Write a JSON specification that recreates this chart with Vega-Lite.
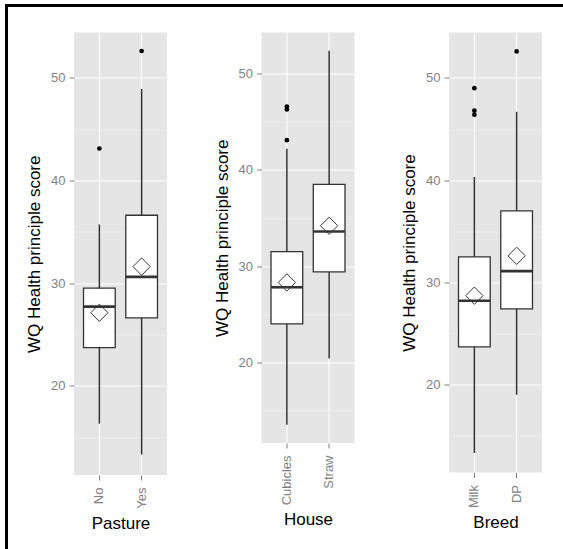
{
  "$schema": "https://vega.github.io/schema/vega-lite/v6.json",
  "background": "white",
  "padding": {"left": 5, "top": 4, "right": 0, "bottom": 0},
  "config": {
    "font": "Liberation Sans",
    "view": {"stroke": null},
    "axis": {
      "labelFont": "Liberation Sans",
      "titleFont": "Liberation Sans",
      "labelColor": "#7f7f7f",
      "labelFontSize": 13,
      "tickColor": "#7f7f7f",
      "tickSize": 5,
      "tickWidth": 1,
      "domain": false,
      "titleFontSize": 17,
      "titleFontWeight": "normal",
      "titleColor": "black",
      "gridColor": "white",
      "gridWidth": 1.1
    },
    "axisX": {"labelAngle": -90, "labelPadding": 7, "titlePadding": 7, "grid": true, "bandPosition": 0.5}
  },
  "datasets": {
    "boxes": [
      {"panel": "Pasture", "group": "No", "lo": 16.3, "q1": 23.7, "med": 27.7, "q3": 29.5, "hi": 35.7, "mean": 27.1},
      {"panel": "Pasture", "group": "Yes", "lo": 13.3, "q1": 26.6, "med": 30.6, "q3": 36.6, "hi": 48.9, "mean": 31.6},
      {"panel": "House", "group": "Cubicles", "lo": 13.5, "q1": 24.0, "med": 27.8, "q3": 31.5, "hi": 42.2, "mean": 28.3},
      {"panel": "House", "group": "Straw", "lo": 20.4, "q1": 29.4, "med": 33.6, "q3": 38.5, "hi": 52.4, "mean": 34.2},
      {"panel": "Breed", "group": "Milk", "lo": 13.3, "q1": 23.7, "med": 28.2, "q3": 32.5, "hi": 40.3, "mean": 28.7},
      {"panel": "Breed", "group": "DP", "lo": 19.0, "q1": 27.4, "med": 31.1, "q3": 37.0, "hi": 46.7, "mean": 32.6}
    ],
    "outliers": [
      {"panel": "Pasture", "group": "No", "value": 43.1},
      {"panel": "Pasture", "group": "Yes", "value": 52.6},
      {"panel": "House", "group": "Cubicles", "value": 43.1},
      {"panel": "House", "group": "Cubicles", "value": 46.3},
      {"panel": "House", "group": "Cubicles", "value": 46.6},
      {"panel": "Breed", "group": "Milk", "value": 49.0},
      {"panel": "Breed", "group": "Milk", "value": 46.8},
      {"panel": "Breed", "group": "Milk", "value": 46.4},
      {"panel": "Breed", "group": "DP", "value": 52.6}
    ]
  },
  "spacing": 0,
  "hconcat": [
    {"width": 3, "height": 545, "data": {"values": []}, "mark": "rule", "encoding": {}, "view": {"fill": "black", "stroke": null}},
    {
      "spacing": 25.5,
      "vconcat": [
        {"width": 555, "height": 3, "data": {"values": []}, "mark": "rule", "encoding": {}, "view": {"fill": "black", "stroke": null}},
        {
          "spacing": 0,
          "hconcat": [
            {"width": 16.5, "height": 10, "data": {"values": []}, "mark": "rule", "encoding": {}},
            {
              "spacing": 45.5,
              "hconcat": [
                {
                  "width": 93, "height": 442.5,
                  "view": {"fill": "#e5e5e5", "stroke": null},
                  "resolve": {"axis": {"y": "independent"}},
                  "layer": [
                    {
                      "data": {"name": "boxes"}, "transform": [{"filter": "datum.panel === 'Pasture'"}],
                      "mark": {"type": "rule", "color": "#333333", "strokeWidth": 1.5},
                      "encoding": {
                        "x": {"field": "group", "type": "nominal", "title": "Pasture", "scale": {"type": "band", "domain": ["No", "Yes"], "paddingInner": 0.25, "paddingOuter": 0.225}},
                        "y": {"field": "lo", "type": "quantitative", "scale": {"domain": [11.3, 54.4], "nice": false, "zero": false},
                              "axis": {"title": "WQ Health principle score", "values": [20, 30, 40, 50], "grid": true, "labelPadding": 4, "titlePadding": 7}},
                        "y2": {"field": "hi"}
                      }
                    },
                    {
                      "data": {"name": "boxes"}, "transform": [{"filter": "datum.panel === 'Pasture'"}],
                      "mark": {"type": "bar", "fill": "white", "stroke": "#333333", "strokeWidth": 1.3, "opacity": 1},
                      "encoding": {
                        "x": {"field": "group", "type": "nominal", "title": "Pasture", "scale": {"type": "band", "domain": ["No", "Yes"], "paddingInner": 0.25, "paddingOuter": 0.225}},
                        "y": {"field": "q1", "type": "quantitative", "scale": {"domain": [11.3, 54.4], "nice": false, "zero": false},
                              "axis": {"values": [15, 25, 35, 45], "grid": true, "gridColor": "#f2f2f2", "gridWidth": 0.7, "labels": false, "ticks": false, "domain": false, "title": null}},
                        "y2": {"field": "q3"}
                      }
                    },
                    {
                      "data": {"name": "boxes"}, "transform": [{"filter": "datum.panel === 'Pasture'"}],
                      "mark": {"type": "tick", "color": "#333333", "thickness": 2.6, "size": 31.7, "opacity": 1},
                      "encoding": {
                        "x": {"field": "group", "type": "nominal", "title": "Pasture", "scale": {"type": "band", "domain": ["No", "Yes"], "paddingInner": 0.25, "paddingOuter": 0.225}},
                        "y": {"field": "med", "type": "quantitative", "scale": {"domain": [11.3, 54.4], "nice": false, "zero": false}, "axis": null}
                      }
                    },
                    {
                      "data": {"name": "boxes"}, "transform": [{"filter": "datum.panel === 'Pasture'"}],
                      "mark": {"type": "point", "shape": "diamond", "filled": false, "size": 300, "color": "#333333", "strokeWidth": 1, "opacity": 1},
                      "encoding": {
                        "x": {"field": "group", "type": "nominal", "title": "Pasture", "scale": {"type": "band", "domain": ["No", "Yes"], "paddingInner": 0.25, "paddingOuter": 0.225}},
                        "y": {"field": "mean", "type": "quantitative", "scale": {"domain": [11.3, 54.4], "nice": false, "zero": false}, "axis": null}
                      }
                    },
                    {
                      "data": {"name": "outliers"}, "transform": [{"filter": "datum.panel === 'Pasture'"}],
                      "mark": {"type": "circle", "size": 22, "color": "black", "opacity": 1},
                      "encoding": {
                        "x": {"field": "group", "type": "nominal", "title": "Pasture", "scale": {"type": "band", "domain": ["No", "Yes"], "paddingInner": 0.25, "paddingOuter": 0.225}},
                        "y": {"field": "value", "type": "quantitative", "scale": {"domain": [11.3, 54.4], "nice": false, "zero": false}, "axis": null}
                      }
                    }
                  ]
                },
                {
                  "width": 93, "height": 410.5,
                  "view": {"fill": "#e5e5e5", "stroke": null},
                  "resolve": {"axis": {"y": "independent"}},
                  "layer": [
                    {
                      "data": {"name": "boxes"}, "transform": [{"filter": "datum.panel === 'House'"}],
                      "mark": {"type": "rule", "color": "#333333", "strokeWidth": 1.5},
                      "encoding": {
                        "x": {"field": "group", "type": "nominal", "title": "House", "scale": {"type": "band", "domain": ["Cubicles", "Straw"], "paddingInner": 0.25, "paddingOuter": 0.225}},
                        "y": {"field": "lo", "type": "quantitative", "scale": {"domain": [11.6, 54.3], "nice": false, "zero": false},
                              "axis": {"title": "WQ Health principle score", "values": [20, 30, 40, 50], "grid": true, "labelPadding": 4, "titlePadding": 7}},
                        "y2": {"field": "hi"}
                      }
                    },
                    {
                      "data": {"name": "boxes"}, "transform": [{"filter": "datum.panel === 'House'"}],
                      "mark": {"type": "bar", "fill": "white", "stroke": "#333333", "strokeWidth": 1.3, "opacity": 1},
                      "encoding": {
                        "x": {"field": "group", "type": "nominal", "title": "House", "scale": {"type": "band", "domain": ["Cubicles", "Straw"], "paddingInner": 0.25, "paddingOuter": 0.225}},
                        "y": {"field": "q1", "type": "quantitative", "scale": {"domain": [11.6, 54.3], "nice": false, "zero": false},
                              "axis": {"values": [15, 25, 35, 45], "grid": true, "gridColor": "#f2f2f2", "gridWidth": 0.7, "labels": false, "ticks": false, "domain": false, "title": null}},
                        "y2": {"field": "q3"}
                      }
                    },
                    {
                      "data": {"name": "boxes"}, "transform": [{"filter": "datum.panel === 'House'"}],
                      "mark": {"type": "tick", "color": "#333333", "thickness": 2.6, "size": 31.7, "opacity": 1},
                      "encoding": {
                        "x": {"field": "group", "type": "nominal", "title": "House", "scale": {"type": "band", "domain": ["Cubicles", "Straw"], "paddingInner": 0.25, "paddingOuter": 0.225}},
                        "y": {"field": "med", "type": "quantitative", "scale": {"domain": [11.6, 54.3], "nice": false, "zero": false}, "axis": null}
                      }
                    },
                    {
                      "data": {"name": "boxes"}, "transform": [{"filter": "datum.panel === 'House'"}],
                      "mark": {"type": "point", "shape": "diamond", "filled": false, "size": 300, "color": "#333333", "strokeWidth": 1, "opacity": 1},
                      "encoding": {
                        "x": {"field": "group", "type": "nominal", "title": "House", "scale": {"type": "band", "domain": ["Cubicles", "Straw"], "paddingInner": 0.25, "paddingOuter": 0.225}},
                        "y": {"field": "mean", "type": "quantitative", "scale": {"domain": [11.6, 54.3], "nice": false, "zero": false}, "axis": null}
                      }
                    },
                    {
                      "data": {"name": "outliers"}, "transform": [{"filter": "datum.panel === 'House'"}],
                      "mark": {"type": "circle", "size": 22, "color": "black", "opacity": 1},
                      "encoding": {
                        "x": {"field": "group", "type": "nominal", "title": "House", "scale": {"type": "band", "domain": ["Cubicles", "Straw"], "paddingInner": 0.25, "paddingOuter": 0.225}},
                        "y": {"field": "value", "type": "quantitative", "scale": {"domain": [11.6, 54.3], "nice": false, "zero": false}, "axis": null}
                      }
                    }
                  ]
                },
                {
                  "width": 93, "height": 440,
                  "view": {"fill": "#e5e5e5", "stroke": null},
                  "resolve": {"axis": {"y": "independent"}},
                  "layer": [
                    {
                      "data": {"name": "boxes"}, "transform": [{"filter": "datum.panel === 'Breed'"}],
                      "mark": {"type": "rule", "color": "#333333", "strokeWidth": 1.5},
                      "encoding": {
                        "x": {"field": "group", "type": "nominal", "title": "Breed", "scale": {"type": "band", "domain": ["Milk", "DP"], "paddingInner": 0.25, "paddingOuter": 0.225}},
                        "y": {"field": "lo", "type": "quantitative", "scale": {"domain": [11.4, 54.45], "nice": false, "zero": false},
                              "axis": {"title": "WQ Health principle score", "values": [20, 30, 40, 50], "grid": true, "labelPadding": 4, "titlePadding": 7}},
                        "y2": {"field": "hi"}
                      }
                    },
                    {
                      "data": {"name": "boxes"}, "transform": [{"filter": "datum.panel === 'Breed'"}],
                      "mark": {"type": "bar", "fill": "white", "stroke": "#333333", "strokeWidth": 1.3, "opacity": 1},
                      "encoding": {
                        "x": {"field": "group", "type": "nominal", "title": "Breed", "scale": {"type": "band", "domain": ["Milk", "DP"], "paddingInner": 0.25, "paddingOuter": 0.225}},
                        "y": {"field": "q1", "type": "quantitative", "scale": {"domain": [11.4, 54.45], "nice": false, "zero": false},
                              "axis": {"values": [15, 25, 35, 45], "grid": true, "gridColor": "#f2f2f2", "gridWidth": 0.7, "labels": false, "ticks": false, "domain": false, "title": null}},
                        "y2": {"field": "q3"}
                      }
                    },
                    {
                      "data": {"name": "boxes"}, "transform": [{"filter": "datum.panel === 'Breed'"}],
                      "mark": {"type": "tick", "color": "#333333", "thickness": 2.6, "size": 31.7, "opacity": 1},
                      "encoding": {
                        "x": {"field": "group", "type": "nominal", "title": "Breed", "scale": {"type": "band", "domain": ["Milk", "DP"], "paddingInner": 0.25, "paddingOuter": 0.225}},
                        "y": {"field": "med", "type": "quantitative", "scale": {"domain": [11.4, 54.45], "nice": false, "zero": false}, "axis": null}
                      }
                    },
                    {
                      "data": {"name": "boxes"}, "transform": [{"filter": "datum.panel === 'Breed'"}],
                      "mark": {"type": "point", "shape": "diamond", "filled": false, "size": 300, "color": "#333333", "strokeWidth": 1, "opacity": 1},
                      "encoding": {
                        "x": {"field": "group", "type": "nominal", "title": "Breed", "scale": {"type": "band", "domain": ["Milk", "DP"], "paddingInner": 0.25, "paddingOuter": 0.225}},
                        "y": {"field": "mean", "type": "quantitative", "scale": {"domain": [11.4, 54.45], "nice": false, "zero": false}, "axis": null}
                      }
                    },
                    {
                      "data": {"name": "outliers"}, "transform": [{"filter": "datum.panel === 'Breed'"}],
                      "mark": {"type": "circle", "size": 22, "color": "black", "opacity": 1},
                      "encoding": {
                        "x": {"field": "group", "type": "nominal", "title": "Breed", "scale": {"type": "band", "domain": ["Milk", "DP"], "paddingInner": 0.25, "paddingOuter": 0.225}},
                        "y": {"field": "value", "type": "quantitative", "scale": {"domain": [11.4, 54.45], "nice": false, "zero": false}, "axis": null}
                      }
                    }
                  ]
                }
              ]
            }
          ]
        }
      ]
    }
  ]
}
